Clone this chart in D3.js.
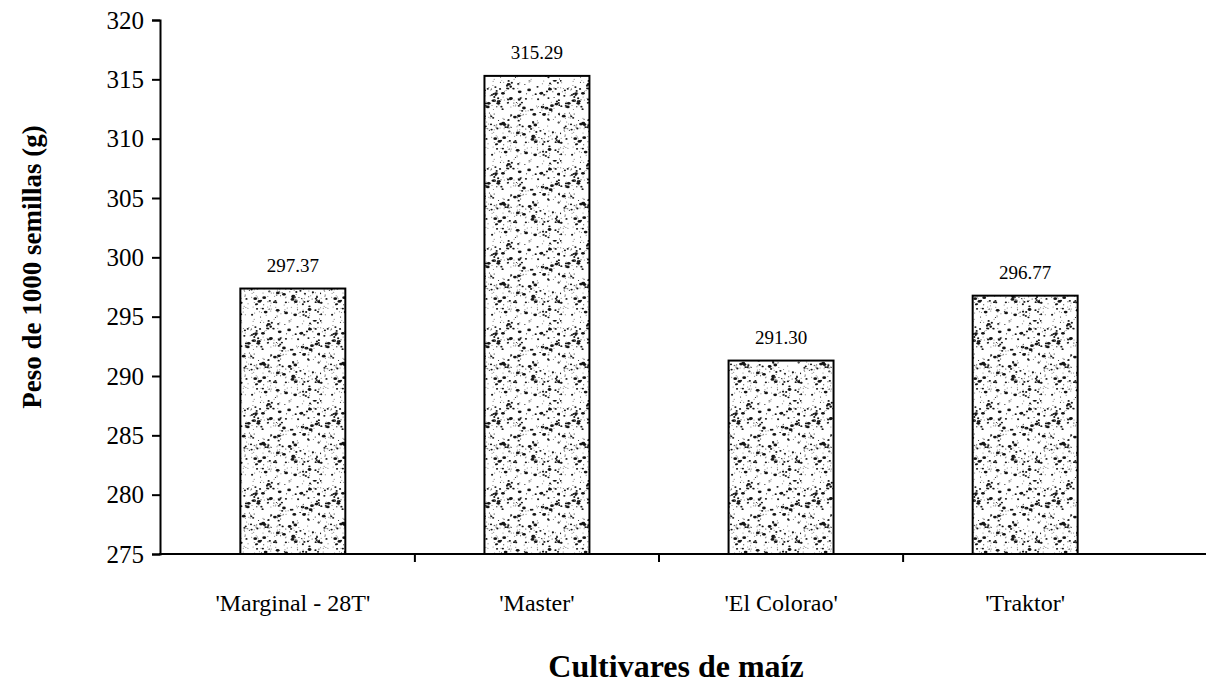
<!DOCTYPE html>
<html>
<head>
<meta charset="utf-8">
<script src="https://cdn.jsdelivr.net/npm/d3@7"></script>
<style>
  body { margin: 0; background: #fff; }
  svg { display: block; font-family: "Liberation Serif", "Times New Roman", serif; }
</style>
</head>
<body>
<div id="chart"></div>
<script>
// cultivars and 1000-seed weight (g)
const cultivares = ["'Marginal - 28T'", "'Master'", "'El Colorao'", "'Traktor'"];
const peso = [297.37, 315.29, 291.30, 296.77];
const etiquetas = ["297.37", "315.29", "291.30", "296.77"];
const yTicks = [275, 280, 285, 290, 295, 300, 305, 310, 315, 320];

const width = 1206, height = 689;
const svg = d3.select('#chart')
  .append('svg')
  .attr('width', width)
  .attr('height', height);

const x = d3.scaleBand()
  .domain(cultivares)
  .range([172, 1146])
  .paddingInner(0.57)
  .paddingOuter(0.28);

const y = d3.scaleLinear()
  .domain([275, 320])
  .range([554, 20]);

// stipple texture for bars (decorative only)
const defs = svg.append('defs');
const pat = defs.append('pattern')
  .attr('id', 'stipple')
  .attr('patternUnits', 'userSpaceOnUse')
  .attr('width', 80).attr('height', 80);
pat.append('rect').attr('width', 80).attr('height', 80).attr('fill', '#fff');
let seed = 11;
function lcg() { seed = (seed * 16807) % 2147483647; return seed / 2147483647; }
for (let i = 0; i < 420; i++) {
  const r = lcg();
  const cx = lcg() * 80, cy = lcg() * 80;
  pat.append('ellipse')
    .attr('cx', cx)
    .attr('cy', cy)
    .attr('rx', r < 0.6 ? 0.6 : (r < 0.88 ? 1.1 : 1.9))
    .attr('ry', r < 0.6 ? 0.5 : (r < 0.88 ? 0.9 : 1.4))
    .attr('fill', r < 0.45 ? '#777' : '#151515');
}

// bars
svg.append('g')
  .selectAll('rect')
  .data(cultivares)
  .enter().append('rect')
    .attr('x', d => x(d))
    .attr('y', (d, i) => y(peso[i]))
    .attr('width', x.bandwidth())
    .attr('height', (d, i) => y(275) - y(peso[i]))
    .attr('fill', 'url(#stipple)')
    .attr('stroke', '#000')
    .attr('stroke-width', 2);

// value labels
svg.append('g')
  .selectAll('text')
  .data(cultivares)
  .enter().append('text')
    .attr('x', d => x(d) + x.bandwidth() / 2)
    .attr('y', (d, i) => y(peso[i]) - 17)
    .attr('text-anchor', 'middle')
    .style('font-size', '19px')
    .text((d, i) => etiquetas[i]);

// y axis
const yAxis = svg.append('g')
  .attr('transform', 'translate(160,0)')
  .call(d3.axisLeft(y).tickValues(yTicks).tickSize(8).tickPadding(8));
yAxis.select('.domain').attr('stroke-width', 2);
yAxis.selectAll('.tick line').attr('stroke-width', 2);
yAxis.selectAll('.tick text')
  .style('font-size', '25px')
  .style('font-family', '"Liberation Serif", serif')
  .attr('fill', '#000');

// x axis: line from y axis to right edge, ticks between categories
const xg = svg.append('g');
xg.append('line')
  .attr('x1', 159).attr('x2', 1206)
  .attr('y1', y(275)).attr('y2', y(275))
  .attr('stroke', '#000').attr('stroke-width', 2);
const bordes = cultivares.slice(1).map(d => x(d) - x.step() * x.paddingInner() / 2);
xg.selectAll('line.tick')
  .data(bordes)
  .enter().append('line')
    .attr('class', 'tick')
    .attr('x1', d => d).attr('x2', d => d)
    .attr('y1', y(275)).attr('y2', y(275) + 8)
    .attr('stroke', '#000').attr('stroke-width', 2);
xg.selectAll('text')
  .data(cultivares)
  .enter().append('text')
    .attr('x', d => x(d) + x.bandwidth() / 2)
    .attr('y', 611)
    .attr('text-anchor', 'middle')
    .style('font-size', '24px')
    .text(d => d);

// axis titles
svg.append('text')
  .attr('x', 676)
  .attr('y', 677)
  .attr('text-anchor', 'middle')
  .style('font-size', '32px')
  .style('font-weight', 'bold')
  .text('Cultivares de maíz');

svg.append('text')
  .attr('transform', 'translate(41,267) rotate(-90)')
  .attr('text-anchor', 'middle')
  .style('font-size', '27px')
  .style('font-weight', 'bold')
  .text('Peso de 1000 semillas (g)');
</script>
</body>
</html>
